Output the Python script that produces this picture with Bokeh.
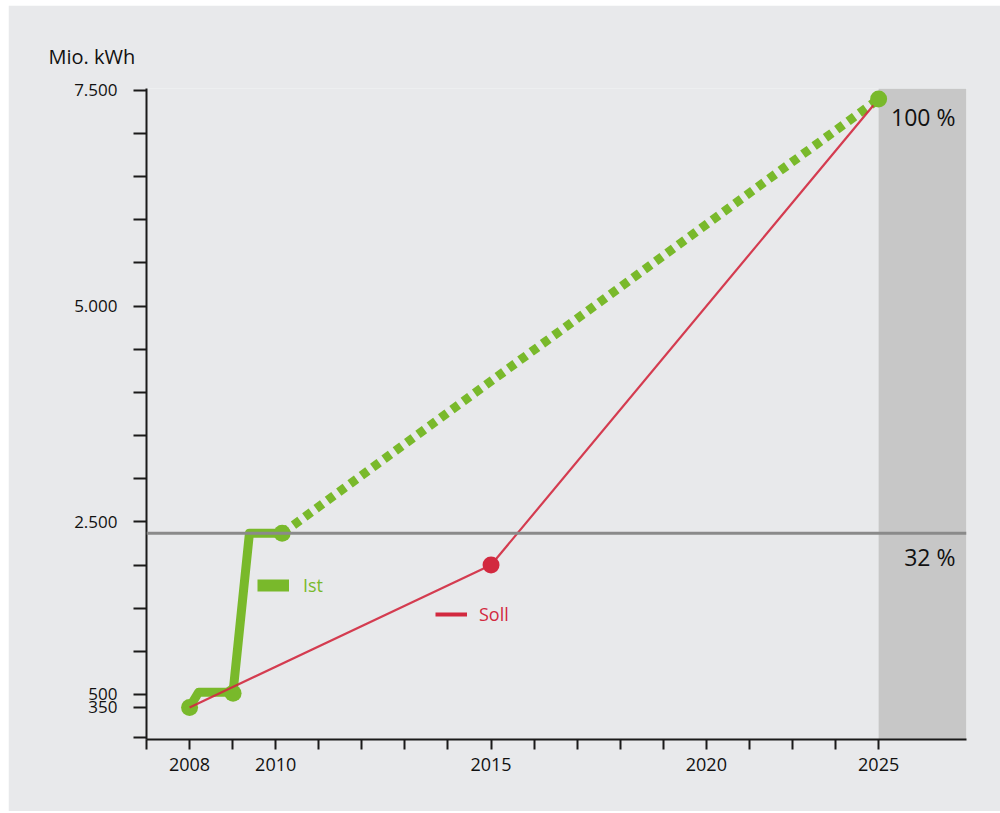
from bokeh.plotting import figure
from bokeh.models import Range1d, FixedTicker, Span, Legend, LegendItem, ColumnDataSource
from bokeh.core.properties import value
from bokeh.embed import file_html
from bokeh.resources import INLINE

# ---- data ----
# x positions are tick positions of the original drawing (one tick per step)
x_tick_pos = list(range(18))
x_tick_labels = {1: "2008", 3: "2010", 8: "2015", 13: "2020", 17: "2025"}

y_ticks = [0, 350, 500, 1000, 1500, 2000, 2500, 3000, 3500, 4000, 4500, 5000, 5500, 6000, 6500, 7000, 7500]
y_tick_labels = {350: "350", 500: "500", 2500: "2.500", 5000: "5.000", 7500: "7.500"}

target_pos = 17
target_value = 7400
level_share = 0.32
level_value = target_value * level_share

ist_x = [1, 1.21, 2.01, 2.39, 3.15]
ist_y = [350, 525, 525, level_value, level_value]
ist_dot_x = [1, 2.01, 3.15]
ist_dot_y = [350, 515, level_value]

trend_x = [3.15, target_pos]
trend_y = [level_value, target_value]

soll_x = [1, 8, target_pos]
soll_y = [350, 2000, target_value]
soll_dot_x = [8]
soll_dot_y = [2000]

pct_labels = ["100 %", "32 %"]
pct_values = [target_value, level_value]

GREEN = "#79b92b"
RED = "#d2293f"
BG = "#e8e9eb"
FONT = "Open Sans"
NAN = float("nan")

x_end = 19.04
y_start, y_end = -22, 7522

p = figure(width=992, height=806, margin=(5, 0, 2, 8),
           x_range=Range1d(0, x_end), y_range=Range1d(y_start, y_end),
           output_backend="svg", toolbar_location=None,
           min_border_left=138, min_border_right=34, min_border_top=83, min_border_bottom=72,
           background_fill_color=BG, border_fill_color=BG, outline_line_color=None)
p.grid.visible = False

p.title.text = "Mio. kWh"
p.title.align = "left"
p.title.offset = -98
p.title.standoff = 38
p.title.text_font = FONT
p.title.text_font_size = "20px"
p.title.text_font_style = "normal"
p.title.text_color = "#111111"

# shaded target period
p.quad(left=[target_pos], right=[x_end], bottom=[y_start], top=[y_end],
       fill_color="#c7c7c7", line_color=None)

p.add_layout(Span(location=level_value, dimension="width", line_color="#8a8a8a", line_width=3))

# Ist
p.line(ist_x, ist_y, line_color=GREEN, line_width=9, line_join="round")
p.line(trend_x, trend_y, line_color=GREEN, line_width=9, line_dash="8 6")
p.scatter(ist_dot_x, ist_dot_y, size=17, fill_color=GREEN, line_color=None)

# Soll
p.line(soll_x, soll_y, line_color=RED, line_width=2.2, line_alpha=0.9)
p.scatter(soll_dot_x, soll_dot_y, size=17, fill_color=RED, line_color=None)
p.scatter([target_pos], [target_value], size=17, fill_color=GREEN, line_color=None)

# percentage labels
src = ColumnDataSource(dict(x=[x_end, x_end], y=pct_values, t=pct_labels, yo=[2, 8]))
p.text(x="x", y="y", text="t", source=src, x_offset=-11, y_offset="yo",
       text_align="right", text_baseline="top", text_font=value(FONT),
       text_font_size="23px", text_color="#111111")

# legends (custom placed)
ist_leg = p.line([NAN], [NAN], line_color=GREEN, line_width=12)
soll_leg = p.line([NAN], [NAN], line_color=RED, line_width=4)
for rend, lab, col, loc, stand in [(ist_leg, "Ist", GREEN, (111, 142), 14),
                                   (soll_leg, "Soll", RED, (289, 113), 12)]:
    lg = Legend(items=[LegendItem(label=lab, renderers=[rend])], location=loc,
                glyph_width=32, glyph_height=20, label_height=20, label_standoff=stand,
                padding=0, margin=0, spacing=0, border_line_color=None,
                background_fill_alpha=0, label_text_color=col,
                label_text_font=FONT, label_text_font_size="18px")
    p.add_layout(lg, "center")

# axes
for ax in (p.xaxis[0], p.yaxis[0]):
    ax.axis_line_color = "#1a1a1a"
    ax.axis_line_width = 2
    ax.major_tick_line_color = "#1a1a1a"
    ax.major_tick_line_width = 2
    ax.minor_tick_line_color = None
    ax.major_tick_in = 0
    ax.major_label_text_font = FONT
    ax.major_label_text_color = "#111111"

p.xaxis.ticker = FixedTicker(ticks=x_tick_pos)
p.xaxis.major_label_overrides = {i: x_tick_labels.get(i, "") for i in x_tick_pos}
p.xaxis.major_tick_out = 10
p.xaxis.major_label_standoff = 8
p.xaxis.major_label_text_font_size = "18px"

p.yaxis.ticker = FixedTicker(ticks=y_ticks)
p.yaxis.major_label_overrides = {v: y_tick_labels.get(v, "") for v in y_ticks}
p.yaxis.major_tick_out = 13
p.yaxis.major_label_standoff = 16
p.yaxis.major_label_text_font_size = "17px"

open("out.html", "w").write(file_html(p, INLINE))
